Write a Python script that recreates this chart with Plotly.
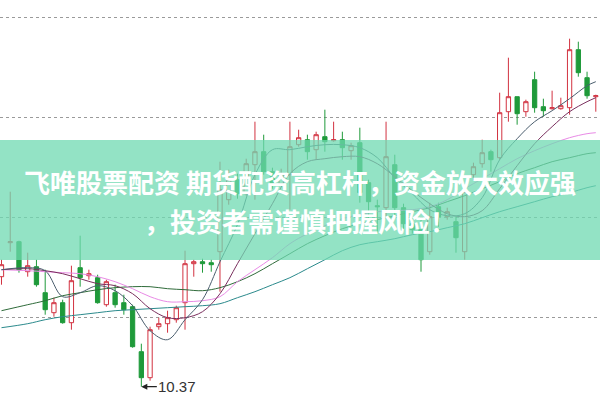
import plotly.graph_objects as go

# ---- data (prices) ----
idx = list(range(69))
opens = [11.47,11.81,11.82,11.52,11.57,11.31,11.11,11.21,11.01,11.56,11.48,11.46,11.19,11.31,11.21,11.17,10.72,10.46,10.97,11.00,
         11.04,11.21,11.60,11.62,11.61,11.72,12.24,12.44,12.30,12.59,12.72,12.52,12.40,12.49,12.79,12.84,12.74,12.87,12.83,12.84,
         12.73,12.81,12.41,12.18,12.16,12.59,12.16,12.00,11.94,11.72,12.17,12.07,12.02,11.72,12.49,12.60,12.72,12.66,13.12,13.27,
         13.12,13.44,13.17,13.15,13.15,13.16,13.74,13.46,13.27]
closes = [11.59,11.82,11.54,11.58,11.39,11.14,11.21,11.01,11.43,11.46,11.50,11.21,11.42,11.19,11.14,10.77,10.46,10.94,11.00,11.06,
          11.16,11.60,11.62,11.60,11.59,12.34,12.44,12.30,12.60,12.72,12.52,12.40,12.50,12.77,12.86,12.72,12.89,12.82,12.84,12.76,
          12.78,12.31,12.22,12.17,12.67,12.16,12.00,11.94,11.64,12.07,12.07,12.12,11.86,12.32,12.57,12.71,12.64,13.11,13.27,13.10,
          13.22,13.16,13.13,13.16,13.18,13.74,13.51,13.28,13.28]
highs = [11.64,12.32,11.83,11.71,11.64,11.54,11.26,11.24,11.58,11.88,11.54,11.49,11.44,11.39,11.29,11.19,10.80,10.97,11.06,11.13,
         11.18,11.73,11.64,11.65,11.64,12.62,12.54,12.50,12.65,13.02,12.89,12.56,12.55,13.02,12.94,12.89,12.92,13.14,13.02,12.92,
         12.81,12.96,12.44,12.24,13.02,12.69,12.20,12.05,12.04,12.21,12.21,12.16,12.07,12.37,12.61,12.84,12.74,13.31,13.66,13.27,
         13.24,13.52,13.25,13.33,13.26,13.85,13.82,13.52,13.29]
lows = [11.39,11.72,11.51,11.47,11.37,11.09,11.07,11.00,10.94,11.37,11.44,11.20,11.17,11.16,11.09,10.76,10.37,10.43,10.94,10.91,
        11.01,10.94,11.47,11.51,11.52,11.32,12.19,12.25,12.28,12.24,12.49,12.35,12.38,12.14,12.77,12.64,12.64,12.72,12.82,12.64,
        12.64,12.21,12.02,11.91,12.07,12.07,11.95,11.90,11.52,11.69,11.97,12.04,11.71,11.64,12.44,12.56,12.52,12.64,13.02,12.99,
        13.07,13.11,13.07,13.14,13.14,13.09,13.47,13.25,13.12]

ma_x = [0,3,5,7,9,11,13,15,17,19,21,23,25,27,29,31,33,35,37,39,41,43,45,47,49,51,53,55,57,59,61,63,65,67,68]
ma5 = [11.54,11.56,11.53,11.27,11.31,11.38,11.33,11.18,10.93,10.84,11.04,11.24,11.62,11.99,12.49,12.74,12.74,12.77,12.79,12.79,12.76,12.66,12.46,12.30,12.14,12.08,12.10,12.26,12.64,12.85,13.02,13.13,13.25,13.38,13.42]
ma10 = [11.54,11.55,11.53,11.50,11.45,11.40,11.38,11.30,11.15,11.06,11.06,11.12,11.30,11.60,11.90,12.20,12.50,12.62,12.65,12.67,12.67,12.60,12.47,12.33,12.20,12.10,12.07,12.13,12.35,12.58,12.80,12.97,13.12,13.22,13.26]
ma20 = [11.54,11.53,11.52,11.51,11.50,11.47,11.42,11.35,11.27,11.22,11.22,11.23,11.27,11.42,11.54,11.66,11.80,11.90,11.98,12.05,12.09,12.12,12.13,12.14,12.17,12.24,12.35,12.45,12.55,12.65,12.73,12.80,12.86,12.90,12.91]
ma30 = [11.13,11.19,11.23,11.28,11.31,11.34,11.36,11.37,11.37,11.35,11.34,11.33,11.36,11.42,11.50,11.60,11.70,11.80,11.88,11.95,12.00,12.04,12.08,12.12,12.16,12.22,12.28,12.35,12.42,12.50,12.56,12.62,12.66,12.70,12.71]
ma60 = [10.96,11.00,11.04,11.07,11.09,11.11,11.13,11.14,11.15,11.16,11.17,11.18,11.20,11.26,11.32,11.39,11.46,11.55,11.64,11.73,11.79,11.82,11.85,11.89,11.92,11.96,12.00,12.06,12.12,12.17,12.22,12.27,12.31,12.36,12.38]

grid_vals = [11.06, 12.06, 13.06, 14.06]
low_label = "10.37"
banner_line1 = "飞唯股票配资 期货配资高杠杆，资金放大效应强"
banner_line2 = "，投资者需谨慎把握风险！"

RED = "#d23240"
GREEN = "#1f9a3a"

fig = go.Figure()
fig.add_trace(go.Candlestick(
    x=idx, open=opens, high=highs, low=lows, close=closes,
    increasing=dict(line=dict(color=RED, width=1), fillcolor="white"),
    decreasing=dict(line=dict(color=GREEN, width=1), fillcolor=GREEN),
    whiskerwidth=0, showlegend=False, hoverinfo="skip"))

for vals, col in [(ma60, "#2b8a8c"), (ma30, "#2f6b3a"), (ma20, "#e98ae6"), (ma10, "#7a2f5e"), (ma5, "#4b5e6e")]:
    fig.add_trace(go.Scatter(x=ma_x, y=vals, mode="lines", line=dict(color=col, width=1, shape="spline"),
                             showlegend=False, hoverinfo="skip"))

fig.add_annotation(x=16, y=10.37, text=low_label, showarrow=True, arrowhead=2, arrowsize=1, arrowwidth=1.2,
                   arrowcolor="#222", ax=36, ay=0, font=dict(size=15, color="#333", family="Liberation Sans"))

# banner
fig.add_shape(type="rect", xref="paper", yref="paper", x0=0, x1=1, y0=1 - 260/401, y1=1 - 140/401,
              fillcolor="rgb(111,217,178)", opacity=0.75, line=dict(width=0), layer="above")
fig.add_annotation(xref="paper", yref="paper", x=0.5, y=1 - 181/401, text="<b>" + banner_line1 + "</b>", showarrow=False,
                   font=dict(size=26, color="white", family="Noto Sans CJK SC"), yanchor="middle")
fig.add_annotation(xref="paper", yref="paper", x=0.5, y=1 - 220/401, text="<b>" + banner_line2 + "</b>", showarrow=False,
                   font=dict(size=26, color="white", family="Noto Sans CJK SC"), yanchor="middle")

fig.update_layout(
    width=600, height=401, margin=dict(l=0, r=0, t=0, b=0),
    paper_bgcolor="white", plot_bgcolor="white",
    xaxis=dict(range=[-0.17, 68.48], showgrid=False, zeroline=False, showticklabels=False,
               rangeslider=dict(visible=False), fixedrange=True),
    yaxis=dict(range=[10.227, 14.237], tickvals=grid_vals, showticklabels=False, showgrid=True,
               gridcolor="#9a9a9a", griddash="dot", gridwidth=1, zeroline=False, fixedrange=True),
    font=dict(family="Noto Sans CJK SC"),
)
fig.write_html("out.html", config={"displayModeBar": False},
               post_script="document.body.style.margin='0';document.body.style.padding='0';document.body.style.overflow='hidden';")
